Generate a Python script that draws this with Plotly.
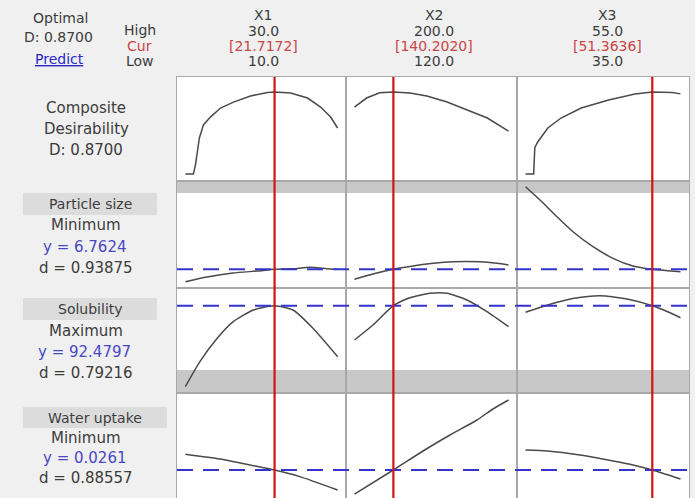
import plotly.graph_objects as go

W, H = 695, 498

# ---------------- data ----------------
factors = ["X1", "X2", "X3"]
high_vals = ["30.0", "200.0", "55.0"]
cur_vals = ["[21.7172]", "[140.2020]", "[51.3636]"]
low_vals = ["10.0", "120.0", "35.0"]
low = [10.0, 120.0, 35.0]
high = [30.0, 200.0, 55.0]
cur = [21.7172, 140.2020, 51.3636]

# Composite desirability curves
comp_x1 = [10, 11.05, 11.32, 11.84, 12.37, 13.29, 14.61, 16.32, 18.55, 20.79, 21.72, 23.82, 26.05, 27.76, 29.08, 30]
comp_d1 = [0, 0, 0.095, 0.382, 0.52, 0.604, 0.70, 0.763, 0.827, 0.865, 0.87, 0.86, 0.806, 0.71, 0.604, 0.488]
comp_x2 = [120, 126.3, 133.1, 140.2, 148.8, 157.6, 168.1, 178.6, 189.0, 200]
comp_d2 = [0.71, 0.806, 0.862, 0.87, 0.86, 0.827, 0.763, 0.68, 0.594, 0.456]
comp_x3 = [35, 36.05, 36.2, 36.57, 37.88, 39.58, 42.19, 45.72, 49.12, 51.36, 53.95, 55]
comp_d3 = [0, 0, 0.28, 0.34, 0.488, 0.594, 0.70, 0.785, 0.848, 0.87, 0.865, 0.85]

# Particle size (minimize)
ps_x1 = [10, 12.84, 16.26, 19.41, 21.72, 24.14, 26.37, 28.6, 30]
ps_y1 = [5.52, 5.99, 6.39, 6.59, 6.76, 6.82, 6.96, 6.82, 6.76]
ps_x2 = [120, 129.6, 140.2, 150.4, 160.8, 171.1, 185.2, 194.1, 200]
ps_y2 = [5.76, 6.29, 6.76, 7.09, 7.36, 7.52, 7.52, 7.36, 7.19]
ps_x3 = [35, 36.87, 39.06, 41.13, 43.71, 46.29, 48.87, 51.36, 53.35, 55]
ps_y3 = [15.02, 13.69, 12.02, 10.52, 9.02, 7.86, 7.09, 6.76, 6.62, 6.52]

# Solubility (maximize)
so_x1 = [10, 11.91, 14.18, 16.28, 18.93, 21.72, 24.14, 26.76, 30]
so_y1 = [72.23, 78.48, 84.33, 88.48, 91.4, 92.48, 91.4, 86.83, 79.73]
so_x2 = [120, 129.6, 140.2, 148.8, 159.2, 168.0, 178.4, 188.8, 200]
so_y2 = [83.9, 87.65, 92.48, 94.48, 95.58, 95.58, 93.9, 90.98, 87.23]
so_x3 = [35, 37.87, 41.27, 44.61, 48.1, 51.36, 53.35, 55]
so_y3 = [90.83, 92.66, 94.33, 94.98, 94.15, 92.48, 90.98, 89.48]

# Water uptake (minimize)
wu_x1 = [10, 14.55, 18.49, 21.72, 25.04, 30]
wu_y1 = [0.0340, 0.0316, 0.0286, 0.0261, 0.0228, 0.0161]
wu_x2 = [120, 140.2, 155.6, 169.6, 183.6, 191.9, 200]
wu_y2 = [0.0140, 0.0261, 0.0356, 0.0436, 0.0511, 0.0566, 0.0611]
wu_x3 = [35, 37.8, 42.03, 46.29, 48.87, 51.36, 55]
wu_y3 = [0.0361, 0.0356, 0.0336, 0.0306, 0.0286, 0.0261, 0.0216]

responses = ["Particle size", "Solubility", "Water uptake"]
goals = ["Minimum", "Maximum", "Minimum"]
y_pred = ["y = 6.7624", "y = 92.4797", "y = 0.0261"]
d_vals = ["d = 0.93875", "d = 0.79216", "d = 0.88557"]
pred_vals = [6.7624, 92.4797, 0.0261]

rows_x = [[comp_x1, comp_x2, comp_x3], [ps_x1, ps_x2, ps_x3], [so_x1, so_x2, so_x3], [wu_x1, wu_x2, wu_x3]]
rows_y = [[comp_d1, comp_d2, comp_d3], [ps_y1, ps_y2, ps_y3], [so_y1, so_y2, so_y3], [wu_y1, wu_y2, wu_y3]]

# ---------------- layout geometry ----------------
def px_x(p):
    return p / W

def px_y(p):
    return 1 - p / H

col_px = [(177, 346), (346, 517), (517, 689)]
row_px = [(77, 181), (181, 288), (288, 393), (393, 498)]
y_ranges = [(-0.074, 1.029), (4.892, 15.592), (70.655, 96.905), (0.0121, 0.0646)]
gray_bands = {1: (14.392, 15.592), 2: (70.655, 76.405)}

TXT = "#3c3c3c"
RED_TXT = "#c84646"
BLUE_TXT = "#4848c4"
FONT = "DejaVu Sans"

fig = go.Figure()
layout = dict(
    width=W, height=H, margin=dict(l=0, r=0, t=0, b=0),
    paper_bgcolor="#f0f0f0", plot_bgcolor="#ffffff",
    showlegend=False, font=dict(family=FONT, size=15, color=TXT),
)
shapes = []
annotations = []

for r in range(4):
    for c in range(3):
        k = r * 3 + c + 1
        xa = "xaxis" if k == 1 else f"xaxis{k}"
        ya = "yaxis" if k == 1 else f"yaxis{k}"
        xr = "x" if k == 1 else f"x{k}"
        yr = "y" if k == 1 else f"y{k}"
        span = high[c] - low[c]
        pad = 0.055 * span
        axis_common = dict(showgrid=False, zeroline=False, showticklabels=False, ticks="",
                           showline=True, mirror=True, linecolor="#a8a8a8", linewidth=1,
                           fixedrange=True)
        layout[xa] = dict(domain=[px_x(col_px[c][0]), px_x(col_px[c][1])],
                          range=[low[c] - pad, high[c] + pad], anchor=yr, **axis_common)
        layout[ya] = dict(domain=[px_y(row_px[r][1]), px_y(row_px[r][0])],
                          range=list(y_ranges[r]), anchor=xr, **axis_common)
        if r in gray_bands:
            g0, g1 = gray_bands[r]
            shapes.append(dict(type="rect", xref=f"{xr} domain", yref=yr, x0=0, x1=1,
                               y0=g0, y1=g1, fillcolor="#c8c8c8", line=dict(width=0), layer="below"))
        fig.add_trace(go.Scatter(x=rows_x[r][c], y=rows_y[r][c], mode="lines", xaxis=xr, yaxis=yr,
                                 line=dict(color="#4a4a4a", width=1.5,
                                           shape="linear" if r == 0 else "spline", smoothing=0.6),
                                 hoverinfo="skip"))

# horizontal dashed prediction lines
for i in range(3):
    k = (i + 1) * 3 + 1
    shapes.append(dict(type="line", xref="paper", yref=f"y{k}", x0=px_x(177), x1=px_x(689),
                       y0=pred_vals[i], y1=pred_vals[i],
                       line=dict(color="#3434cc", width=2, dash="16px,10px"), layer="above"))

# red vertical current-setting lines
for c in range(3):
    xr = "x" if c == 0 else f"x{c + 1}"
    shapes.append(dict(type="line", xref=xr, yref="paper", x0=cur[c], x1=cur[c],
                       y0=0, y1=px_y(77), line=dict(color="#d01414", width=2.2), layer="above"))

# header text
def ann(text, x, y, color=TXT, size=15, xanchor="center"):
    annotations.append(dict(text=text, x=px_x(x), y=px_y(y), xref="paper", yref="paper",
                            showarrow=False, xanchor=xanchor, yanchor="middle",
                            font=dict(family=FONT, size=size, color=color)))

HS = 14
ann("Optimal", 60, 18, size=HS)
ann("D: 0.8700", 58, 37, size=HS)
ann("<u>Predict</u>", 59, 59, color="#2828c8", size=HS)
ann("High", 140, 30, size=HS)
ann("Cur", 139, 46, color=RED_TXT, size=HS)
ann("Low", 140, 61, size=HS)
col_centers = [263, 434, 607]
for c in range(3):
    ann(factors[c], col_centers[c], 15, size=HS)
    ann(high_vals[c], col_centers[c], 31, size=HS)
    ann(cur_vals[c], col_centers[c], 46, color=RED_TXT, size=HS)
    ann(low_vals[c], col_centers[c], 61, size=HS)

# row labels
ann("Composite", 86, 108)
ann("Desirability", 86, 129)
ann("D: 0.8700", 86, 150)

label_boxes = [(23, 157, 193, 215), (23, 157, 298, 320), (23, 167, 407, 428)]
label_y = [(204, 225, 247, 268), (309, 331, 352, 373), (418, 438, 458, 478)]
for i in range(3):
    x0, x1, y0, y1 = label_boxes[i]
    shapes.append(dict(type="rect", xref="paper", yref="paper", x0=px_x(x0), x1=px_x(x1),
                       y0=px_y(y1), y1=px_y(y0), fillcolor="#dcdcdc", line=dict(width=0), layer="below"))
    ly = label_y[i]
    ann(responses[i], (x0 + x1) / 2, ly[0], size=14)
    ann(goals[i], 86, ly[1])
    ann(y_pred[i], 84, ly[2], color=BLUE_TXT)
    ann(d_vals[i], 86, ly[3])

layout["shapes"] = shapes
layout["annotations"] = annotations
fig.update_layout(**layout)
fig.write_html("out.html")
